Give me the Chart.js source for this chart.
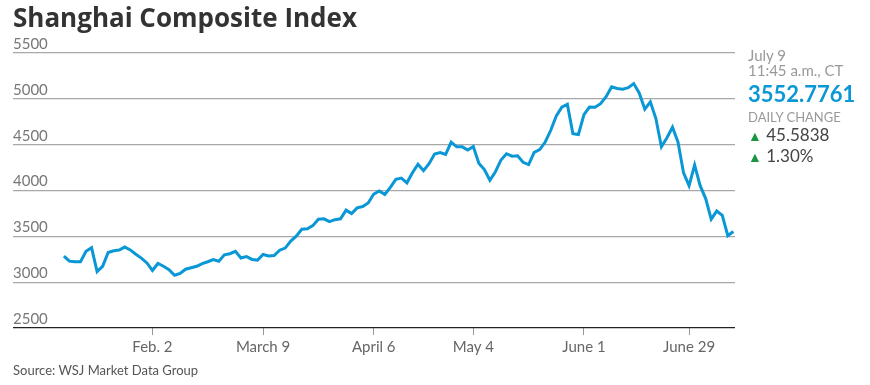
<!DOCTYPE html>
<html>
<head>
<meta charset="utf-8">
<script src="https://cdn.jsdelivr.net/npm/chart.js@4"></script>
<style>
  body { margin: 0; background: #fff; width: 870px; height: 385px; overflow: hidden; position: relative; }
  #c { position: absolute; left: 0; top: 0; }
  .txt { position: absolute; white-space: nowrap; font-family: Lato, sans-serif; }
  #title { left: 13px; top: 2px; font-family: "Open Sans", sans-serif; font-weight: 700; font-size: 26px; color: #333; line-height: 1.2; }
  #side { left: 748px; top: 48px; color: #999; font-size: 15px; line-height: 15px; }
  #side .v { color: #0a97d6; font-weight: 700; font-size: 22px; line-height: 24px; margin-top: 4px; }
  #side .dc { font-size: 13px; margin-top: 4px; line-height: 14px; }
  #side .ch { color: #444; font-size: 17px; line-height: 19px; margin-top: 1px; }
  #side .up { color: #1a9641; font-size: 14px; }
  #src { left: 13px; top: 362px; font-size: 13px; color: #555; }
</style>
</head>
<body>
<canvas id="c" width="870" height="385"></canvas>
<div class="txt" id="title">Shanghai Composite Index</div>
<div class="txt" id="side">
  <div>July 9</div>
  <div>11:45 a.m., CT</div>
  <div class="v">3552.7761</div>
  <div class="dc">DAILY CHANGE</div>
  <div class="ch"><span class="up">&#9650;</span> 45.5838</div>
  <div class="ch"><span class="up">&#9650;</span> 1.30%</div>
</div>
<div class="txt" id="src">Source: WSJ Market Data Group</div>
<script>
// trading days, Jan 9 - July 9
const dates = [
  '1/9','1/12','1/13','1/14','1/15','1/16','1/19','1/20','1/21','1/22','1/23','1/26','1/27','1/28','1/29','1/30',
  '2/2','2/3','2/4','2/5','2/6','2/9','2/10','2/11','2/12','2/13','2/16','2/17','2/25','2/26','2/27',
  '3/2','3/3','3/4','3/5','3/6','3/9','3/10','3/11','3/12','3/13','3/16','3/17','3/18','3/19','3/20','3/23','3/24','3/25','3/26','3/27','3/30','3/31',
  '4/1','4/2','4/3','4/7','4/8','4/9','4/10','4/13','4/14','4/15','4/16','4/17','4/20','4/21','4/22','4/23','4/24','4/27','4/28','4/29','4/30',
  '5/4','5/5','5/6','5/7','5/8','5/11','5/12','5/13','5/14','5/15','5/18','5/19','5/20','5/21','5/22','5/25','5/26','5/27','5/28','5/29',
  '6/1','6/2','6/3','6/4','6/5','6/8','6/9','6/10','6/11','6/12','6/15','6/16','6/17','6/18','6/19','6/23','6/24','6/25','6/26','6/29','6/30',
  '7/1','7/2','7/3','7/6','7/7','7/8','7/9'
];
const closes = [
  3285, 3229, 3223, 3222, 3336, 3376, 3116, 3173, 3323, 3343, 3351, 3383, 3352, 3305, 3262, 3210,
  3128, 3204, 3174, 3136, 3075, 3095, 3141, 3157, 3173, 3203, 3223, 3246, 3228, 3298, 3310,
  3336, 3263, 3280, 3248, 3241, 3302, 3286, 3290, 3349, 3372, 3449, 3502, 3577, 3582, 3617, 3687, 3691, 3660, 3682, 3691, 3786, 3748,
  3810, 3825, 3864, 3961, 3994, 3957, 4034, 4121, 4135, 4084, 4194, 4287, 4217, 4293, 4398, 4414, 4393, 4527, 4476, 4476, 4441,
  4480, 4298, 4229, 4112, 4205, 4333, 4401, 4375, 4378, 4308, 4283, 4417, 4446, 4529, 4657, 4813, 4910, 4941, 4620, 4611,
  4828, 4910, 4909, 4947, 5023, 5131, 5113, 5106, 5121, 5166, 5062, 4887, 4967, 4785, 4478, 4576, 4690, 4527, 4192, 4053, 4277,
  4053, 3912, 3687, 3776, 3728, 3507, 3553
];
// x-axis labels and the trading day they sit on
const tickLabels = ['Feb. 2', 'March 9', 'April 6', 'May 4', 'June 1', 'June 29'];
const tickDates = ['2/2', '3/9', '4/7', '5/4', '6/1', '6/29'];
const yTicks = [2500, 3000, 3500, 4000, 4500, 5000, 5500];

const tickIdx = tickDates.map(d => dates.indexOf(d));
const tickFont = { family: 'Lato', size: 15 };

new Chart(document.getElementById('c'), {
  type: 'line',
  data: {
    datasets: [{
      data: closes.map((v, i) => ({ x: i, y: v })),
      borderColor: '#0a97d6',
      borderWidth: 3,
      pointRadius: 0,
      tension: 0,
      fill: false
    }]
  },
  options: {
    responsive: false,
    animation: false,
    devicePixelRatio: 1,
    layout: { padding: { left: 13, right: 135, top: 53, bottom: 0 } },
    plugins: { legend: { display: false }, tooltip: { enabled: false } },
    scales: {
      x: {
        type: 'linear',
        min: -9.2,
        max: 121.3,
        afterBuildTicks: s => { s.ticks = tickIdx.map(v => ({ value: v })); },
        afterFit: s => { s.height = 57; },
        grid: { drawOnChartArea: false, tickLength: 7, color: '#999', lineWidth: 1 },
        border: { display: false },
        ticks: {
          autoSkip: false, maxRotation: 0, padding: 3,
          font: tickFont, color: '#666',
          callback: v => tickLabels[tickIdx.indexOf(v)]
        }
      },
      y: {
        min: 2500,
        max: 5500,
        afterBuildTicks: s => { s.ticks = yTicks.map(v => ({ value: v })); },
        afterFit: s => { s.width = 0; },
        grid: {
          drawTicks: false,
          lineWidth: 1.3,
          color: c => c.tick && c.tick.value === 2500 ? '#222' : '#a8a8a8'
        },
        border: { display: false },
        ticks: {
          mirror: true, padding: 0, labelOffset: -9,
          font: tickFont, color: '#777',
          callback: v => String(v)
        }
      }
    }
  }
});
</script>
</body>
</html>
